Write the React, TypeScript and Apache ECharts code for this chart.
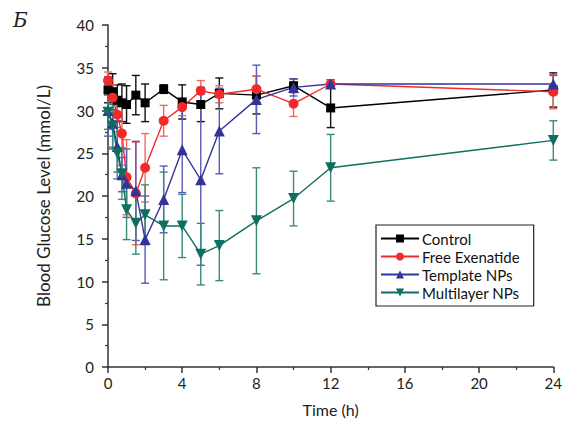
import React, { useEffect, useRef } from "react";
import * as echarts from "echarts";

const times = [0, 0.25, 0.5, 0.75, 1, 1.5, 2, 3, 4, 5, 6, 8, 10, 12, 24];
const control = [32.4, 32.2, 31.2, 30.9, 30.7, 31.8, 30.9, 32.5, 31.0, 30.7, 32.0, 31.8, 32.9, 30.3, 32.4];
const controlErr = [1.5, 2.1, 1.8, 2.2, 2.2, 2.3, 2.2, 0.5, 2.0, 2.0, 1.8, 2.2, 0.8, 2.3, 2.0];
const freeEx = [33.5, 31.5, 29.5, 27.3, 22.2, 20.3, 23.3, 28.8, 30.4, 32.3, 31.9, 32.5, 30.8, 33.1, 32.2];
const freeExErr = [1.0, 1.5, 2.0, 3.7, 4.4, 6.0, 4.0, 1.8, 1.0, 1.2, 1.0, 1.5, 1.5, 0.5, 2.0];
const template = [30.0, 28.5, 25.8, 22.5, 21.5, 20.6, 14.9, 19.6, 25.4, 21.9, 27.6, 31.3, 32.7, 33.1, 33.1];
const templateErr = [3.0, 3.0, 3.0, 2.0, 4.0, 5.8, 5.1, 3.9, 5.0, 10.0, 5.0, 4.0, 1.0, 0.5, 1.0];
const multilayer = [29.8, 28.2, 25.0, 22.6, 18.4, 16.8, 17.8, 16.5, 16.5, 13.2, 14.2, 17.1, 19.7, 23.3, 26.5];
const multilayerErr = [2.0, 2.5, 3.0, 3.0, 3.5, 3.6, 3.5, 6.3, 3.7, 3.6, 4.1, 6.2, 3.2, 3.9, 2.3];

const xTicks = [0, 4, 8, 12, 16, 20, 24];
const yTicks = [0, 5, 10, 15, 20, 25, 30, 35, 40];

const seriesNames = ["Control", "Free Exenatide", "Template NPs", "Multilayer NPs"];
const seriesValues = [control, freeEx, template, multilayer];
const seriesErrs = [controlErr, freeExErr, templateErr, multilayerErr];
const lineColors = ["#000000", "#f42a2a", "#33339a", "#0f6e62"];
const barColors = ["#111111", "#f26a5a", "#5a5ab8", "#3a8a7c"];
const symbols = ["rect", "circle", "triangle", "triangle"];
const symbolRot = [0, 0, 0, 180];
const symbolSizes = [9, 10, 11, 11];

const FONT = "Lato";

export default function App() {
  const ref = useRef<HTMLDivElement>(null);
  useEffect(() => {
    document.body.style.margin = "0";
    const chart = echarts.init(ref.current!, null, { renderer: "svg" });
    const series: any[] = [];
    seriesNames.forEach((name, si) => {
      const color = barColors[si];
      series.push({
        type: "custom",
        name: name + " err",
        z: 2,
        silent: true,
        renderItem: (params: any, api: any) => {
          const x = api.value(0);
          const y = api.value(1);
          const e = api.value(2);
          const top = api.coord([x, y + e]);
          const bot = api.coord([x, y - e]);
          const hw = 4;
          const st = { stroke: color, lineWidth: 1.4 };
          return {
            type: "group",
            children: [
              { type: "line", shape: { x1: top[0], y1: top[1], x2: bot[0], y2: bot[1] }, style: st },
              { type: "line", shape: { x1: top[0] - hw, y1: top[1], x2: top[0] + hw, y2: top[1] }, style: st },
              { type: "line", shape: { x1: bot[0] - hw, y1: bot[1], x2: bot[0] + hw, y2: bot[1] }, style: st },
            ],
          };
        },
        encode: { x: 0, y: 1 },
        data: times.map((t, i) => [t, seriesValues[si][i], seriesErrs[si][i]]),
      });
    });
    seriesNames.forEach((name, si) => {
      series.push({
        type: "line",
        name,
        z: 3,
        data: times.map((t, i) => [t, seriesValues[si][i]]),
        symbol: symbols[si],
        symbolRotate: symbolRot[si],
        symbolSize: symbolSizes[si],
        itemStyle: { color: lineColors[si] },
        lineStyle: { color: lineColors[si], width: 1.4 },
      });
    });
    chart.setOption({
      animation: false,
      grid: { left: 108, top: 25, right: 10, bottom: 59, containLabel: false },
      xAxis: {
        type: "value",
        min: 0,
        max: 24,
        interval: 4,
        name: "Time (h)",
        nameLocation: "middle",
        nameGap: 34,
        nameTextStyle: { fontFamily: FONT, fontSize: 16, color: "#222" },
        axisLine: { lineStyle: { color: "#333", width: 1.5 } },
        axisTick: { show: true, length: 6, inside: false, lineStyle: { color: "#333", width: 1.5 } },
        minorTick: { show: true, splitNumber: 2, length: 3, lineStyle: { color: "#333", width: 1.2 } },
        axisLabel: {
          margin: 8,
          fontFamily: FONT,
          fontSize: 15,
          color: "#222",
          formatter: (v: number) => (xTicks.includes(v) ? String(v) : ""),
        },
        splitLine: { show: false },
      },
      yAxis: {
        type: "value",
        min: 0,
        max: 40,
        interval: 5,
        name: "Blood Glucose Level (mmol/L)",
        nameLocation: "middle",
        nameGap: 56,
        nameTextStyle: { fontFamily: FONT, fontSize: 17, color: "#222" },
        axisLine: { show: true, lineStyle: { color: "#333", width: 1.5 } },
        axisTick: { show: true, length: 6, inside: false, lineStyle: { color: "#333", width: 1.5 } },
        minorTick: { show: true, splitNumber: 2, length: 3, lineStyle: { color: "#333", width: 1.2 } },
        axisLabel: {
          margin: 14,
          fontFamily: FONT,
          fontSize: 15,
          color: "#222",
          formatter: (v: number) => (yTicks.includes(v) ? String(v) : ""),
        },
        splitLine: { show: false },
      },
      legend: {
        data: seriesNames,
        orient: "vertical",
        left: 376,
        top: 225,
        padding: [6, 14, 6, 4],
        itemGap: 3,
        itemWidth: 38,
        itemHeight: 10,
        borderColor: "#222",
        borderWidth: 1.2,
        borderRadius: 0,
        textStyle: { fontFamily: FONT, fontSize: 15, color: "#111", padding: [0, 0, 0, -2] },
      },
      graphic: [
        {
          type: "text",
          left: 13,
          top: 10,
          style: { text: "Б", font: "italic 20px 'DejaVu Serif', 'Liberation Serif', serif", fill: "#222" },
        },
      ],
      series,
    });
    return () => chart.dispose();
  }, []);
  return <div ref={ref} style={{ width: 565, height: 426 }} />;
}
